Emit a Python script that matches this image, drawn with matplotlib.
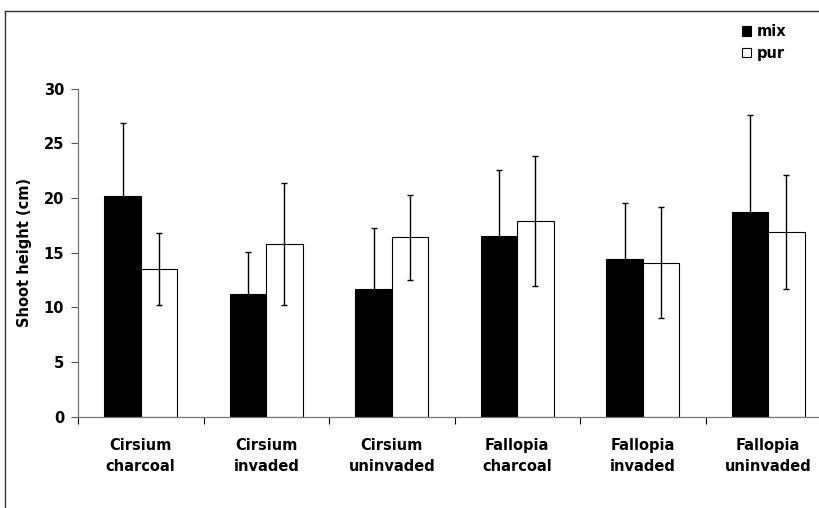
import matplotlib
matplotlib.use("Agg")
import matplotlib.pyplot as plt
from matplotlib.lines import Line2D
import numpy as np

categories = ["Cirsium\ncharcoal", "Cirsium\ninvaded", "Cirsium\nuninvaded",
              "Fallopia\ncharcoal", "Fallopia\ninvaded", "Fallopia\nuninvaded"]
mix_mean = [20.2, 11.2, 11.7, 16.5, 14.4, 18.7]
mix_err = [6.7, 3.9, 5.6, 6.1, 5.1, 8.9]
pur_mean = [13.5, 15.8, 16.4, 17.9, 14.1, 16.9]
pur_err = [3.3, 5.6, 3.9, 5.9, 5.1, 5.2]
yticks = [0, 5, 10, 15, 20, 25, 30]

plt.rcParams['font.family'] = ['DejaVu Sans']
plt.rcParams['font.weight'] = 'bold'
fs = 10.5

W, H = 819, 508
fig = plt.figure(figsize=(W / 100, H / 100), dpi=100)

# plot area, right side runs past the figure edge like in the original
ax = fig.add_axes([78 / W, 1 - 416.7 / H, 753 / W, 328 / H])

x = np.arange(len(categories))
w = 0.29
ax.bar(x - w / 2, mix_mean, w, color='black', edgecolor='black', linewidth=0.8, label='mix', zorder=2)
ax.bar(x + w / 2, pur_mean, w, color='white', edgecolor='black', linewidth=0.8, label='pur', zorder=2)
ax.errorbar(x - w / 2, mix_mean, yerr=mix_err, fmt='none', ecolor='black', elinewidth=1, capsize=2, capthick=1, zorder=3)
ax.errorbar(x + w / 2, pur_mean, yerr=pur_err, fmt='none', ecolor='black', elinewidth=1, capsize=2, capthick=1, zorder=3)

ax.set_xlim(-0.5, len(categories) - 0.5)
ax.set_ylim(0, 30)
ax.set_yticks(yticks)
ax.set_yticklabels([str(t) for t in yticks], fontsize=fs, fontweight='bold')

ax.set_xticks(np.arange(len(categories) + 1) - 0.5)
ax.set_xticklabels([])
ax.set_xticks(x, minor=True)
ax.set_xticklabels(categories, minor=True, fontsize=fs, fontweight='bold', linespacing=1.55)
ax.tick_params(axis='x', which='minor', length=0, pad=15)
ax.tick_params(axis='x', which='major', length=5, direction='out', color='black', width=0.8)
ax.tick_params(axis='y', length=5, direction='out', color='#555555', width=0.8, pad=5)

for side in ['top', 'right']:
    ax.spines[side].set_visible(False)
for side in ['left', 'bottom']:
    ax.spines[side].set_color('#777777')
    ax.spines[side].set_linewidth(0.9)

ax.set_ylabel("Shoot height (cm)", fontsize=fs, fontweight='bold', labelpad=8)

# outer chart frame (top and left visible)
fig.add_artist(Line2D([5 / W, 1.0], [1 - 11 / H, 1 - 11 / H], color='#333333', lw=1, transform=fig.transFigure))
fig.add_artist(Line2D([5 / W, 5 / W], [0, 1 - 11 / H], color='#333333', lw=1, transform=fig.transFigure))

handles, labels = ax.get_legend_handles_labels()
fig.legend(handles, labels, loc='upper left', bbox_to_anchor=(742 / W, 1 - 24 / H),
           frameon=False, prop={'size': fs, 'weight': 'bold'},
           handlelength=0.65, handleheight=0.65, handletextpad=0.35, labelspacing=0.45,
           borderpad=0, borderaxespad=0)

fig.savefig("out.png", dpi=100)
